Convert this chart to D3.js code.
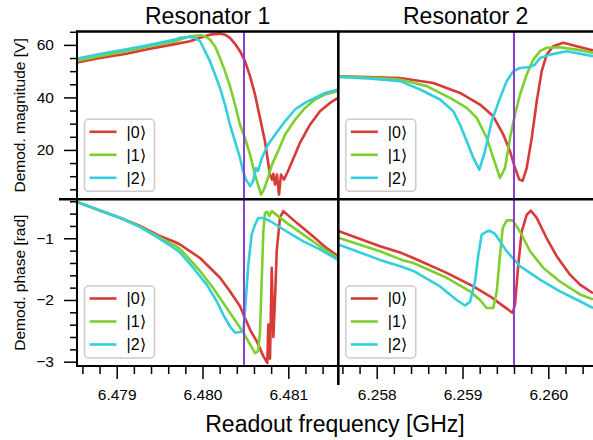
<!DOCTYPE html>
<html><head><meta charset="utf-8">
<script src="https://cdn.jsdelivr.net/npm/d3@7"></script>
<style>body{margin:0;background:#fff} text{font-family:"Liberation Sans",Arial,Helvetica,sans-serif;fill:#000}</style>
</head><body><svg id="c" width="593" height="440"></svg>
<script>
// ---------------- DATA ----------------
const titles = ["Resonator 1", "Resonator 2"];
const stateLabels = ["|0\u27E9", "|1\u27E9", "|2\u27E9"];
const colors = ["#d83a37", "#7ccf2f", "#33cfdc"];
const markerColor = "#8b3ed2";
const freqTicksR1 = [6.479, 6.480, 6.481];
const freqTicksR2 = [6.258, 6.259, 6.260];
const magTicks = [20, 40, 60];
const phaseTicks = [-1, -2, -3];
const markerFreqs = [6.480484, 6.259600];

// Resonator 1 magnitude [V]
const r1Mag0 = [[6.478537,53.3],[6.478805,55.0],[6.479097,56.5],[6.479388,58.5],[6.479679,60.3],[6.479854,61.4],[6.479971,62.7],[6.480087,63.9],[6.480204,64.3],[6.480262,63.9],[6.480320,62.7],[6.480379,60.4],[6.480437,57.6],[6.480495,53.8],[6.480554,48.1],[6.480612,41.1],[6.480670,32.2],[6.480728,23.3],[6.480763,15.7],[6.480787,10.6],[6.480810,8.7],[6.480826,10.9],[6.480845,6.8],[6.480868,10.6],[6.480892,3.0],[6.480915,10.6],[6.480950,8.7],[6.480996,11.9],[6.481078,18.2],[6.481136,22.7],[6.481253,29.6],[6.481369,34.7],[6.481486,37.9],[6.481579,39.8]];
const r1Mag1 = [[6.478537,54.0],[6.478805,55.7],[6.479097,57.5],[6.479388,59.5],[6.479679,61.3],[6.479738,62.0],[6.479854,63.3],[6.479971,63.7],[6.480029,63.3],[6.480087,62.0],[6.480146,59.5],[6.480204,55.0],[6.480262,50.0],[6.480320,44.3],[6.480379,37.3],[6.480437,29.6],[6.480495,24.6],[6.480554,18.2],[6.480612,10.6],[6.480647,6.8],[6.480682,3.0],[6.480717,5.0],[6.480763,9.3],[6.480810,14.4],[6.480880,19.5],[6.480962,25.8],[6.481078,31.5],[6.481195,36.0],[6.481311,39.2],[6.481428,41.1],[6.481579,42.4]];
const r1Mag2 = [[6.478537,54.8],[6.478805,56.5],[6.479097,58.2],[6.479388,60.0],[6.479679,62.0],[6.479738,62.7],[6.479854,63.0],[6.479913,62.7],[6.479971,61.4],[6.480029,57.6],[6.480087,53.8],[6.480146,48.7],[6.480204,43.6],[6.480262,37.3],[6.480320,29.6],[6.480379,23.3],[6.480437,17.0],[6.480472,11.9],[6.480507,8.7],[6.480554,6.2],[6.480589,8.0],[6.480624,13.1],[6.480647,12.0],[6.480693,17.0],[6.480763,22.0],[6.480845,25.8],[6.480962,30.9],[6.481078,35.4],[6.481195,37.9],[6.481311,39.8],[6.481428,41.7],[6.481579,43.0]];

// Resonator 1 phase [rad]
const r1Ph0 = [[6.478537,-0.41],[6.478805,-0.55],[6.479058,-0.68],[6.479272,-0.80],[6.479481,-0.95],[6.479679,-1.06],[6.479738,-1.10],[6.479971,-1.32],[6.480204,-1.64],[6.480320,-1.86],[6.480437,-2.10],[6.480495,-2.29],[6.480554,-2.48],[6.480632,-2.67],[6.480709,-2.91],[6.480755,-3.02],[6.480767,-2.40],[6.480787,-2.95],[6.480807,-1.48],[6.480826,-2.60],[6.480845,-2.00],[6.480865,-1.21],[6.480903,-0.67],[6.480942,-0.56],[6.481098,-0.75],[6.481291,-0.97],[6.481448,-1.16],[6.481579,-1.29]];
const r1Ph1 = [[6.478537,-0.41],[6.478805,-0.55],[6.479058,-0.68],[6.479272,-0.81],[6.479481,-0.97],[6.479679,-1.12],[6.479738,-1.17],[6.479971,-1.53],[6.480126,-1.81],[6.480282,-2.13],[6.480399,-2.37],[6.480476,-2.53],[6.480554,-2.72],[6.480612,-2.86],[6.480650,-2.83],[6.480670,-2.51],[6.480690,-1.70],[6.480709,-0.89],[6.480728,-0.59],[6.480755,-0.57],[6.480778,-0.64],[6.480807,-0.56],[6.480981,-0.75],[6.481175,-0.94],[6.481369,-1.13],[6.481579,-1.32]];
const r1Ph2 = [[6.478537,-0.41],[6.478805,-0.55],[6.479058,-0.68],[6.479272,-0.82],[6.479481,-0.99],[6.479679,-1.17],[6.479738,-1.23],[6.479893,-1.48],[6.480049,-1.75],[6.480166,-2.02],[6.480242,-2.24],[6.480320,-2.43],[6.480379,-2.53],[6.480437,-2.52],[6.480476,-2.51],[6.480495,-2.18],[6.480534,-1.43],[6.480573,-0.94],[6.480612,-0.78],[6.480650,-0.67],[6.480709,-0.67],[6.480787,-0.72],[6.480981,-0.89],[6.481175,-1.05],[6.481369,-1.18],[6.481579,-1.35]];

// Resonator 2 magnitude [V]
const r2Mag0 = [[6.257552,48.0],[6.257900,47.8],[6.258272,47.4],[6.258660,45.5],[6.258971,41.7],[6.259204,37.3],[6.259359,32.8],[6.259476,25.8],[6.259554,19.5],[6.259612,13.1],[6.259662,8.7],[6.259702,8.3],[6.259748,13.1],[6.259807,24.6],[6.259865,38.5],[6.259923,50.0],[6.259981,56.3],[6.260058,59.5],[6.260175,60.8],[6.260331,59.5],[6.260521,57.9]];
const r2Mag1 = [[6.257552,47.9],[6.257900,47.6],[6.258272,46.8],[6.258583,44.3],[6.258854,39.8],[6.259049,36.0],[6.259166,32.2],[6.259282,24.6],[6.259359,17.0],[6.259437,9.3],[6.259495,13.1],[6.259554,24.6],[6.259612,33.5],[6.259670,41.1],[6.259748,48.7],[6.259825,54.4],[6.259903,57.6],[6.259981,58.9],[6.260136,59.1],[6.260331,58.2],[6.260521,57.0]];
const r2Mag2 = [[6.257552,47.8],[6.257900,47.2],[6.258272,46.2],[6.258505,43.0],[6.258738,39.2],[6.258893,34.7],[6.258971,29.6],[6.259049,23.3],[6.259126,17.0],[6.259196,12.5],[6.259262,19.5],[6.259340,30.9],[6.259437,39.8],[6.259515,46.2],[6.259592,50.0],[6.259670,51.2],[6.259787,51.6],[6.259845,52.5],[6.259903,55.0],[6.260020,56.3],[6.260214,57.6],[6.260521,55.7]];

// Resonator 2 phase [rad]
const r2Ph0 = [[6.257552,-0.88],[6.258038,-1.13],[6.258291,-1.24],[6.258427,-1.32],[6.258816,-1.56],[6.259126,-1.78],[6.259320,-1.94],[6.259476,-2.10],[6.259585,-2.21],[6.259612,-2.07],[6.259650,-1.43],[6.259690,-0.89],[6.259748,-0.62],[6.259795,-0.55],[6.259865,-0.67],[6.259981,-1.00],[6.260098,-1.29],[6.260253,-1.59],[6.260369,-1.75],[6.260521,-1.89]];
const r2Ph1 = [[6.257552,-0.99],[6.258038,-1.21],[6.258291,-1.35],[6.258427,-1.40],[6.258816,-1.64],[6.259087,-1.86],[6.259204,-2.00],[6.259282,-2.13],[6.259359,-2.13],[6.259399,-1.86],[6.259437,-1.27],[6.259469,-0.83],[6.259515,-0.71],[6.259585,-0.71],[6.259670,-0.89],[6.259787,-1.21],[6.259942,-1.48],[6.260136,-1.70],[6.260369,-1.91],[6.260521,-1.99]];
const r2Ph2 = [[6.257552,-1.10],[6.258038,-1.35],[6.258291,-1.46],[6.258427,-1.53],[6.258738,-1.78],[6.258932,-2.00],[6.259029,-2.09],[6.259087,-2.03],[6.259146,-1.70],[6.259184,-1.27],[6.259224,-0.94],[6.259282,-0.89],[6.259320,-0.88],[6.259379,-0.93],[6.259515,-1.21],[6.259670,-1.45],[6.259903,-1.67],[6.260136,-1.86],[6.260369,-2.02],[6.260521,-2.13]];

// ---------------- LAYOUT ----------------
const X0 = 77, XM = 338.3, X1 = 593, YT = 31.5, YM = 199.3, YB = 366;
const svg = d3.select("#c");

const xScales = [
  d3.scaleLinear().domain([6.478537, 6.481583]).range([X0, XM]),
  d3.scaleLinear().domain([6.257552, 6.260521]).range([XM, X1])
];
const yMag = d3.scaleLinear().domain([1.2, 65.1]).range([YM, YT]);
const yPh = d3.scaleLinear().domain([-3.07, -0.368]).range([YB, YM]);

const panels = [
  {col:0, y:yMag, series:[r1Mag0, r1Mag1, r1Mag2], y0:YT, y1:YM},
  {col:1, y:yMag, series:[r2Mag0, r2Mag1, r2Mag2], y0:YT, y1:YM},
  {col:0, y:yPh, series:[r1Ph0, r1Ph1, r1Ph2], y0:YM, y1:YB},
  {col:1, y:yPh, series:[r2Ph0, r2Ph1, r2Ph2], y0:YM, y1:YB}
];

const defs = svg.append("defs");
panels.forEach((p, i) => {
  const xr = xScales[p.col].range();
  defs.append("clipPath").attr("id", "clip" + i).append("rect")
    .attr("x", xr[0]).attr("y", p.y0).attr("width", xr[1] - xr[0]).attr("height", p.y1 - p.y0);
});

// curves
panels.forEach((p, i) => {
  const x = xScales[p.col];
  const g = svg.append("g").attr("clip-path", `url(#clip${i})`);
  const line = d3.line().x(d => x(d[0])).y(d => p.y(d[1]));
  p.series.forEach((s, k) => {
    g.append("path").datum(s).attr("d", line).attr("fill", "none")
      .attr("stroke", colors[k]).attr("stroke-width", 2.6)
      .attr("stroke-linejoin", "round").attr("stroke-linecap", "butt");
  });
});

// marker lines
markerFreqs.forEach((f, c) => {
  const x = xScales[c](f);
  svg.append("line").attr("x1", x).attr("x2", x).attr("y1", YT).attr("y2", YB)
    .attr("stroke", markerColor).attr("stroke-width", 2);
});

// legends
panels.forEach(p => {
  const bx = xScales[p.col].range()[0] + 7.5;
  const by = p.y1 - 80;
  const lg = svg.append("g");
  lg.append("rect").attr("x", bx).attr("y", by).attr("width", 70).attr("height", 72)
    .attr("rx", 4).attr("fill", "#fff").attr("fill-opacity", 0.85)
    .attr("stroke", "#cccccc").attr("stroke-width", 1.5);
  stateLabels.forEach((lab, k) => {
    const yy = by + 12.5 + k * 23;
    lg.append("line").attr("x1", bx + 5).attr("x2", bx + 32).attr("y1", yy).attr("y2", yy)
      .attr("stroke", colors[k]).attr("stroke-width", 2.6);
    lg.append("text").attr("x", bx + 42).attr("y", yy).attr("dy", "0.36em")
      .style("font-size", "16px").text(lab);
  });
});

// axes
function styleAxis(g) {
  g.select(".domain").remove();
  g.selectAll(".tick line").attr("stroke", "#000").attr("stroke-width", 1.5);
  g.selectAll(".tick text").style("font-size", "15.5px").attr("fill", "#000");
}
function minorRange(a, b, step) {
  const n = Math.round((b - a) / step);
  return d3.range(n + 1).map(i => +(a + i * step).toFixed(6));
}
// y axes (left column only)
[[yMag, magTicks, minorRange(5, 65, 5)], [yPh, phaseTicks, minorRange(-3, -0.4, 0.2)]].forEach(([y, maj, mn]) => {
  const minors = mn.filter(v => !maj.some(m => Math.abs(m - v) < 1e-6));
  svg.append("g").attr("transform", `translate(${X0},0)`)
    .call(d3.axisLeft(y).tickValues(minors).tickSize(7).tickFormat(""))
    .call(styleAxis);
  svg.append("g").attr("transform", `translate(${X0},0)`)
    .call(d3.axisLeft(y).tickValues(maj).tickSize(13).tickPadding(10).tickFormat(d3.format("d")))
    .call(styleAxis);
});
// x axes
[[xScales[0], freqTicksR1, minorRange(6.4786, 6.4814, 0.0002)], [xScales[1], freqTicksR2, minorRange(6.2576, 6.2604, 0.0002)]].forEach(([x, maj, mn]) => {
  const minors = mn.filter(v => !maj.some(m => Math.abs(m - v) < 1e-7));
  svg.append("g").attr("transform", `translate(0,${YB})`)
    .call(d3.axisBottom(x).tickValues(minors).tickSize(8).tickFormat(""))
    .call(styleAxis);
  svg.append("g").attr("transform", `translate(0,${YB})`)
    .call(d3.axisBottom(x).tickValues(maj).tickSize(13).tickPadding(10).tickFormat(d3.format(".3f")))
    .call(styleAxis);
});

// frame
const frame = svg.append("g").attr("stroke", "#000").attr("fill", "none");
frame.append("line").attr("x1", X0 - 1).attr("x2", X1).attr("y1", YT).attr("y2", YT).attr("stroke-width", 2.5);
frame.append("line").attr("x1", X0).attr("x2", X0).attr("y1", YT - 1).attr("y2", YB + 1).attr("stroke-width", 2);
frame.append("line").attr("x1", XM).attr("x2", XM).attr("y1", YT - 1).attr("y2", 385).attr("stroke-width", 2.6);
frame.append("line").attr("x1", 59).attr("x2", X1).attr("y1", YM).attr("y2", YM).attr("stroke-width", 2.6);
frame.append("line").attr("x1", X0 - 1).attr("x2", X1).attr("y1", YB).attr("y2", YB).attr("stroke-width", 2);

// titles and labels
titles.forEach((t, c) => {
  const r = xScales[c].range();
  svg.append("text").attr("x", (r[0] + r[1]) / 2).attr("y", 24).attr("text-anchor", "middle")
    .style("font-size", "23px").text(t);
});
svg.append("text").attr("x", 335).attr("y", 432).attr("text-anchor", "middle")
  .style("font-size", "23px").text("Readout frequency [GHz]");
svg.append("text").attr("transform", `translate(24.5,${(YT + YM) / 2}) rotate(-90)`)
  .attr("text-anchor", "middle").style("font-size", "15.5px").text("Demod. magnitude [V]");
svg.append("text").attr("transform", `translate(24.5,${(YM + YB) / 2}) rotate(-90)`)
  .attr("text-anchor", "middle").style("font-size", "15.5px").text("Demod. phase [rad]");
</script></body></html>
